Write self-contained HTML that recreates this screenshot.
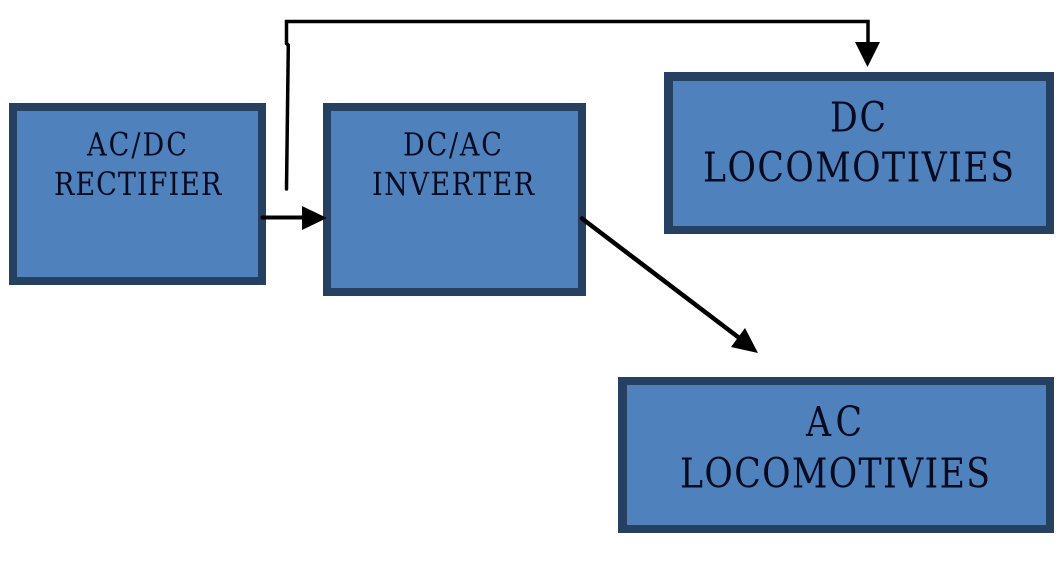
<!DOCTYPE html>
<html>
<head>
<meta charset="utf-8">
<style>
html,body{margin:0;padding:0;background:#fff;width:1062px;height:569px;overflow:hidden}
svg{display:block}
text{font-family:"DejaVu Serif","Liberation Serif",serif;font-stretch:condensed;fill:#060b20;text-anchor:start}
</style>
</head>
<body>
<svg width="1062" height="569" viewBox="0 0 1062 569" xmlns="http://www.w3.org/2000/svg">
<rect width="1062" height="569" fill="#fff"/>
<g fill="#254061">
<rect x="9" y="103" width="257" height="182"/>
<rect x="323" y="103" width="263" height="193"/>
<rect x="664" y="72" width="390" height="162"/>
<rect x="618" y="377" width="436" height="156"/>
</g>
<g fill="#4f81bd">
<rect x="17" y="111" width="241" height="166"/>
<rect x="331" y="111" width="247" height="177"/>
<rect x="673" y="81" width="373" height="145"/>
<rect x="627" y="385" width="419" height="140"/>
</g>
<g font-size="32">
<text transform="translate(87 155.500) scale(.94 1)" textLength="106.400" lengthAdjust="spacing">AC/DC</text>
<text transform="translate(54 195) scale(.94 1)" textLength="178" lengthAdjust="spacing">RECTIFIER</text>
<text transform="translate(403 155.500) scale(.94 1)" textLength="105.300" lengthAdjust="spacing">DC/AC</text>
<text transform="translate(372 195) scale(.94 1)" textLength="172.500" lengthAdjust="spacing">INVERTER</text>
</g>
<g font-size="41">
<text transform="translate(830 131.500) scale(.94 1)" textLength="59.600" lengthAdjust="spacing">DC</text>
<text transform="translate(703 181.500) scale(.94 1)" textLength="330.800" lengthAdjust="spacing">LOCOMOTIVIES</text>
<text transform="translate(806 436) scale(.94 1)" textLength="59.600" lengthAdjust="spacing">AC</text>
<text transform="translate(680 487.500) scale(.94 1)" textLength="329.800" lengthAdjust="spacing">LOCOMOTIVIES</text>
</g>
<g fill="none" stroke="#000" stroke-linecap="round" stroke-linejoin="miter">
<path d="M286.500 189L288.300 45L286.500 43.500V21.500H868V45" stroke-width="3.500"/>
<path d="M262.500 217.500H305" stroke-width="4"/>
<path d="M582 218.500L738 337" stroke-width="4.500"/>
</g>
<g fill="#000">
<polygon points="302,206 327,218 302,230"/>
<polygon points="855,42 880,42 867.500,67"/>
<polygon points="745,328 758,353 731,347"/>
</g>
</svg>
</body>
</html>
